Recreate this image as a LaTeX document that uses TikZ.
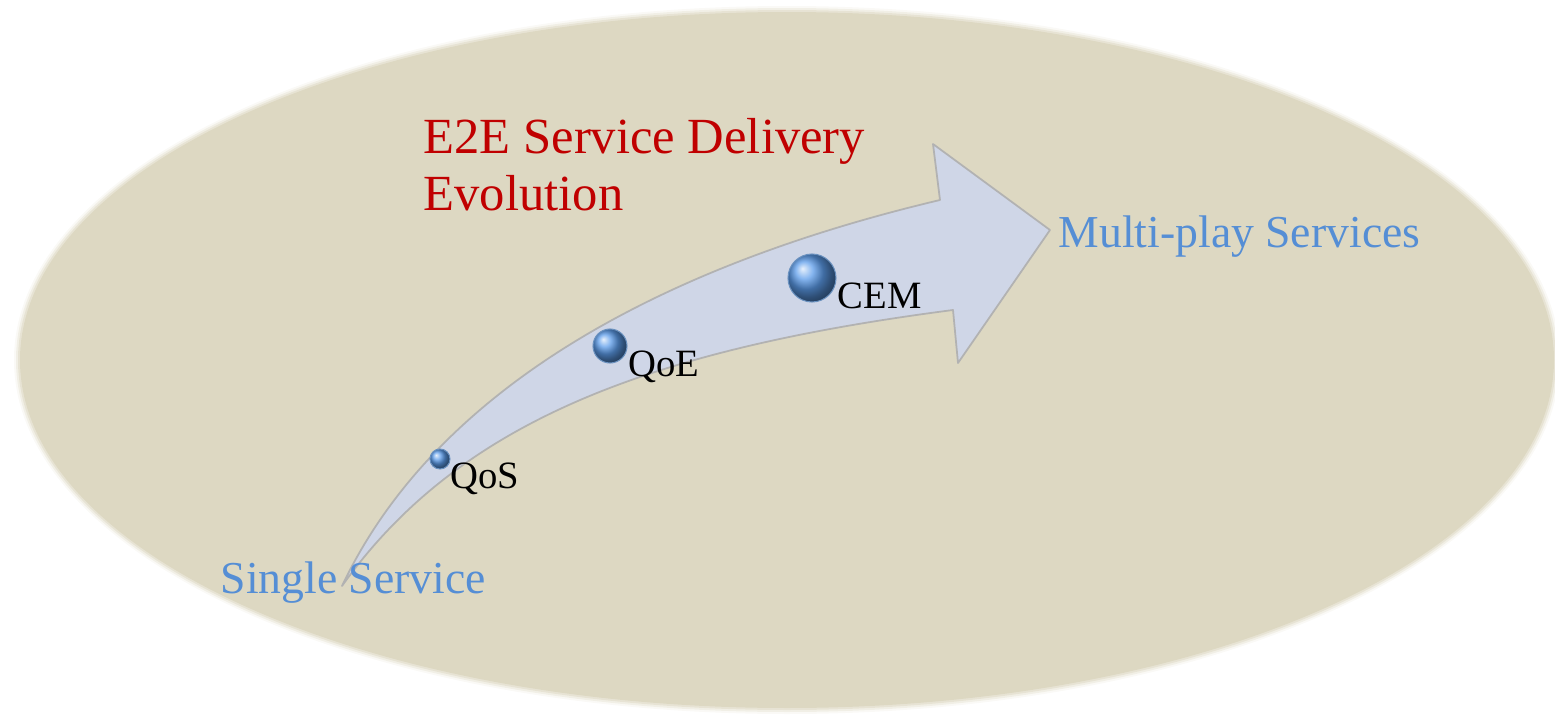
\documentclass[tikz,border=0pt]{standalone}
\usepackage{fontspec}
\setmainfont{Liberation Serif}
\definecolor{ovalfill}{HTML}{DDD8C2}
\definecolor{arrowfill}{HTML}{CFD6E7}
\definecolor{evored}{HTML}{C00000}
\definecolor{stageblue}{HTML}{558ED5}
\definecolor{ballblue}{HTML}{5C9CEA}
\begin{document}
\begin{tikzpicture}[
  endlabel/.style={font=\fontsize{13}{15}\selectfont,text=stageblue,inner sep=0pt,anchor=base west},
  stagelabel/.style={font=\fontsize{11}{12}\selectfont,inner sep=0pt,anchor=base west},
  stageball/.style={circle,inner sep=0pt,shading=ball,ball color=ballblue,draw=ballblue!60!gray,line width=0.3pt}]
\useasboundingbox (0,0) rectangle (15.55,7.15);
% Background oval with soft rim
\foreach \d/\o in {0.06/0.15,0.04/0.3,0.02/0.5} \fill[ovalfill,opacity=\o] (7.87,3.55) ellipse ({7.67+\d} and {3.48+\d});
\fill[ovalfill] (7.87,3.55) ellipse (7.67 and 3.48);
% Curved arrow
\draw[draw=gray!60,line width=0.5pt,fill=arrowfill,line join=round] (3.42,1.29) .. controls (4.30,3.15) and (6.40,4.44) .. (9.40,5.15) -- (9.33,5.71) -- (10.50,4.85) -- (9.58,3.52) -- (9.53,4.05) .. controls (6.53,3.66) and (4.60,2.95) .. (3.42,1.29) -- cycle;
% Stages along the arrow
\node[stageball,minimum size=0.20cm] (qos) at (4.40,2.56) {};
\node[stageball,minimum size=0.34cm] (qoe) at (6.10,3.69) {};
\node[stageball,minimum size=0.48cm] (cem) at (8.12,4.37) {};
\node[stagelabel] (qoslabel) at (4.50,2.27) {QoS};
\node[stagelabel] (qoelabel) at (6.28,3.39) {QoE};
\node[stagelabel] (cemlabel) at (8.37,4.07) {CEM};
% End points and title
\node[endlabel] (single) at (2.20,1.22) {Single Service};
\node[endlabel] (multi) at (10.58,4.68) {Multi-play Services};
\node[font=\fontsize{14.4}{16.2}\selectfont,text=evored,align=left,anchor=north west,inner sep=0pt] (title) at (4.23,5.97) {E2E Service Delivery\\Evolution};
\end{tikzpicture}
\end{document}
